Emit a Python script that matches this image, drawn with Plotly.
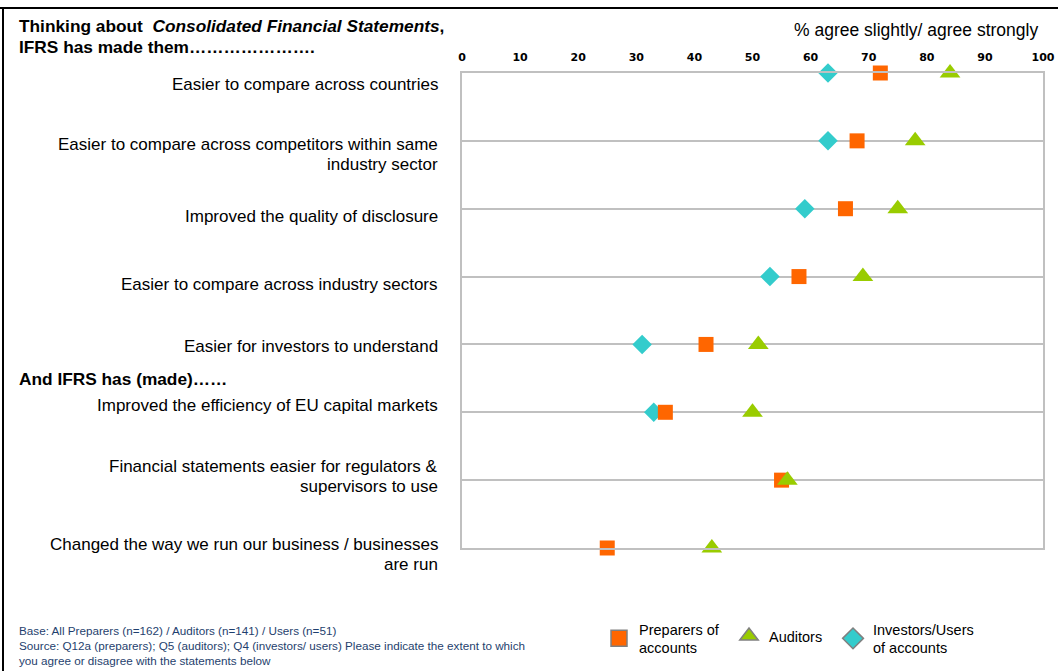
import plotly.graph_objects as go

statements = [
    "Easier to compare across countries",
    "Easier to compare across competitors within same<br>industry sector",
    "Improved the quality of disclosure",
    "Easier to compare across industry sectors",
    "Easier for investors to understand",
    "Improved the efficiency of EU capital markets",
    "Financial statements easier for regulators &<br>supervisors to use",
    "Changed the way we run our business / businesses<br>are run",
]
# vertical offset of each label from its row line (in row units)
label_offsets = [0.17, 0.20, 0.12, 0.12, 0.03, -0.10, -0.06, 0.09]

preparers = [72, 68, 66, 58, 42, 35, 55, 25]
auditors = [84, 78, 75, 69, 51, 50, 56, 43]
investors = [63, 63, 59, 53, 31, 33, None, None]

series_names = ["Preparers of<br>accounts", "Auditors", "Investors/Users<br>of accounts"]
tick_vals = list(range(0, 101, 10))
rows = list(range(len(statements)))

L, R, T, B = 462, 15, 73, 123
W, H = 1058, 671
pw, ph = W - L - R, H - T - B
nrow = len(statements) - 1
LINE_GAP = 20  # px between lines of a wrapped label

def px_x(p):
    return (p - L) / pw

def px_y(p):
    return (H - B - p) / ph

FONT = "Liberation Sans, Arial"
fig = go.Figure()

# data traces (drawn diamond -> square -> triangle), hidden from legend
fig.add_trace(go.Scatter(
    x=investors, y=rows, mode="markers", showlegend=False, cliponaxis=False,
    marker=dict(symbol="diamond", size=15, color="#33CCCC", line=dict(width=0)),
))
fig.add_trace(go.Scatter(
    x=preparers, y=rows, mode="markers", showlegend=False, cliponaxis=False,
    marker=dict(symbol="square", size=15, color="#FF6600", line=dict(width=0)),
))
fig.add_trace(go.Scatter(
    x=auditors, y=rows, mode="markers", showlegend=False, cliponaxis=False,
    marker=dict(symbol="triangle-up", size=18, color="#99CC00", line=dict(width=0)),
))

# legend entries (with grey outline as in the reference legend), one legend each
legend_ids = ["legend", "legend2", "legend3"]
for name, sym, col, lg in zip(series_names, ["square", "triangle-up", "diamond"],
                              ["#FF6600", "#99CC00", "#33CCCC"], legend_ids):
    fig.add_trace(go.Scatter(
        x=[None], y=[None], mode="markers", name=name, legend=lg,
        marker=dict(symbol=sym, size=16, color=col, line=dict(width=1.5, color="#808080")),
    ))

annotations = []
for i, (s, off) in enumerate(zip(statements, label_offsets)):
    parts = s.split("<br>")
    center_px = (H - B) - ph * (1 - (i + off) / nrow)
    for k, part in enumerate(parts):
        ypx = center_px + (k - (len(parts) - 1) / 2) * LINE_GAP
        annotations.append(dict(
            text=part, xref="paper", yref="paper", x=px_x(440), y=px_y(ypx),
            xanchor="right", yanchor="middle", align="right",
            showarrow=False,
            font=dict(family=FONT, size=17, color="#000000"),
        ))

annotations += [
    dict(text="<b>Thinking about  <i>Consolidated Financial Statements</i>,</b>",
         xref="paper", yref="paper", x=px_x(17), y=px_y(26), xanchor="left", yanchor="middle",
         align="left", showarrow=False,
         font=dict(family=FONT, size=17.3, color="#000000")),
    dict(text="<b>IFRS has made them………………….</b>",
         xref="paper", yref="paper", x=px_x(17), y=px_y(47), xanchor="left", yanchor="middle",
         align="left", showarrow=False,
         font=dict(family=FONT, size=17.3, color="#000000")),
    dict(text="% agree slightly/ agree strongly",
         xref="paper", yref="paper", x=px_x(1040), y=px_y(30), xanchor="right", yanchor="middle",
         showarrow=False,
         font=dict(family=FONT, size=17.5, color="#000000")),
    dict(text="<b>And IFRS has (made)……</b>",
         xref="paper", yref="paper", x=px_x(17), y=px_y(379), xanchor="left", yanchor="middle",
         showarrow=False,
         font=dict(family=FONT, size=17.3, color="#000000")),
    dict(text="Base: All Preparers (n=162) / Auditors (n=141) / Users (n=51)<br>"
              "Source: Q12a (preparers); Q5 (auditors); Q4 (investors/ users) Please indicate the extent to which<br>"
              "you agree or disagree with the statements below",
         xref="paper", yref="paper", x=px_x(17), y=px_y(622), xanchor="left", yanchor="top",
         align="left", showarrow=False,
         font=dict(family=FONT, size=11.7, color="#1F3F6E")),
]

shapes = [
    dict(type="line", xref="paper", yref="paper", x0=px_x(0), x1=px_x(W), y0=px_y(8), y1=px_y(8),
         line=dict(color="#000000", width=2)),
    dict(type="line", xref="paper", yref="paper", x0=px_x(3), x1=px_x(3), y0=px_y(8), y1=px_y(H),
         line=dict(color="#000000", width=2)),
]

def legend_at(xpx, ypx):
    return dict(orientation="h", x=px_x(xpx), y=px_y(ypx), xanchor="left", yanchor="top",
                font=dict(family=FONT, size=14.5, color="#000000"),
                itemsizing="trace", bgcolor="rgba(0,0,0,0)", itemwidth=30)

fig.update_layout(
    width=W, height=H,
    margin=dict(l=L, r=R, t=T, b=B, pad=0, autoexpand=False),
    paper_bgcolor="#FFFFFF", plot_bgcolor="#FFFFFF",
    xaxis=dict(range=[0, 100], side="top", tickmode="array", tickvals=tick_vals,
               ticktext=[f"<b>{v}</b>" for v in tick_vals],
               tickfont=dict(family="DejaVu Sans, Arial", size=11, color="#000000"),
               showgrid=False, zeroline=False, showline=True, linecolor="#C0C0C0",
               linewidth=2, mirror=True, ticks="", ticklabelstandoff=6, automargin=False),
    yaxis=dict(range=[nrow, 0], tickvals=rows, showticklabels=False,
               showgrid=True, gridcolor="#C0C0C0", gridwidth=2, zeroline=False,
               showline=True, linecolor="#C0C0C0", linewidth=2, mirror=True, ticks="",
               automargin=False),
    showlegend=True,
    legend=legend_at(599, 613),
    legend2=legend_at(729, 620),
    legend3=legend_at(833, 613),
    annotations=annotations,
    shapes=shapes,
)

fig.write_html("out.html", config={"displayModeBar": False},
               post_script="document.body.style.margin='0px';document.body.style.overflow='hidden';")
